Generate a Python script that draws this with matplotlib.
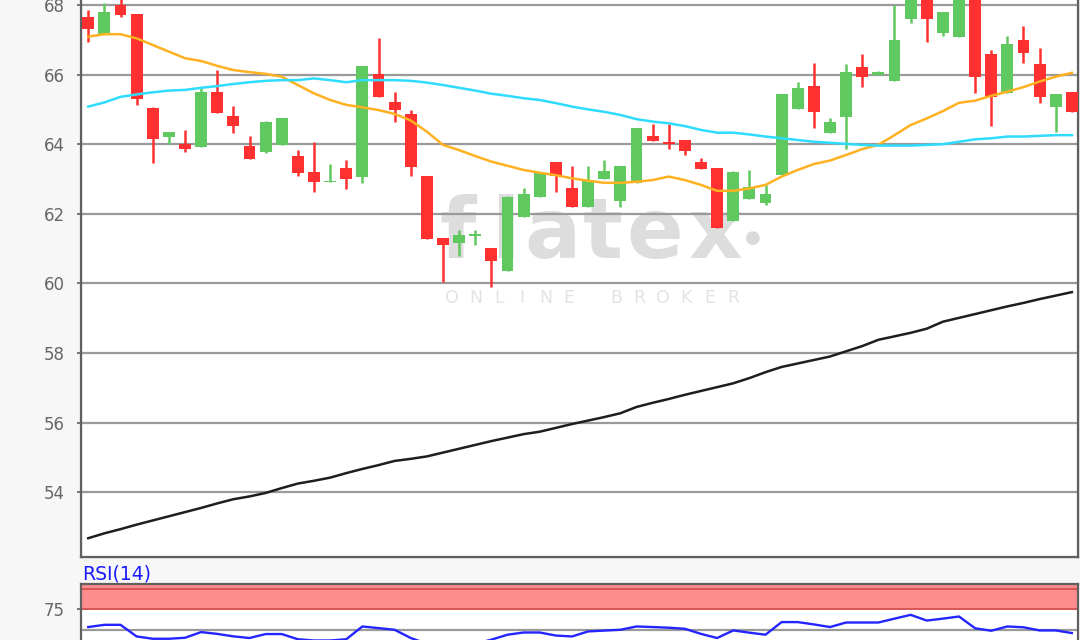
"""
Candlestick chart with moving averages and RSI(14) panel
"""

import matplotlib
matplotlib.use("Agg")
import matplotlib.pyplot as plt
import numpy as np

# ── data ──────────────────────────────────────────
OPEN = [67.66, 67.17, 68.00, 67.74, 65.05, 64.20, 64.00, 63.91, 65.49, 64.81,
        63.96, 63.78, 63.98, 63.67, 63.19, 62.90, 63.31, 63.05, 66.02, 65.22,
        64.87, 63.09, 61.30, 61.15, 61.37, 61.01, 60.36, 61.92, 62.49, 63.48,
        62.73, 62.19, 63.00, 62.37, 62.88, 64.24, 64.05, 64.12, 63.48, 63.31,
        61.79, 62.43, 62.30, 63.11, 65.00, 65.67, 64.31, 64.77, 66.23, 66.00,
        65.82, 67.60, 68.40, 67.19, 67.07, 68.50, 66.59, 65.46, 66.99, 66.30,
        65.06, 65.49]
HIGH = [67.86, 68.05, 68.30, 67.74, 65.08, 64.34, 64.41, 65.65, 66.13, 65.10,
        64.24, 64.68, 64.74, 63.83, 64.05, 63.43, 63.55, 66.25, 67.04, 65.49,
        64.98, 63.09, 61.30, 61.53, 61.53, 61.01, 62.51, 62.73, 63.16, 63.48,
        63.37, 63.37, 63.55, 63.37, 64.46, 64.58, 64.58, 64.12, 63.59, 63.31,
        63.24, 63.26, 62.83, 65.43, 65.80, 66.32, 64.74, 66.30, 66.59, 66.10,
        68.00, 68.60, 68.60, 67.79, 68.60, 68.60, 66.71, 67.11, 67.40, 66.76,
        65.43, 65.49]
LOW = [66.95, 67.17, 67.65, 65.13, 63.45, 64.00, 63.78, 63.91, 64.89, 64.31,
       63.57, 63.74, 63.98, 63.09, 62.64, 62.90, 62.70, 62.88, 65.35, 64.65,
       63.09, 61.27, 60.05, 60.80, 61.10, 59.91, 60.36, 61.92, 62.49, 62.64,
       62.19, 62.19, 63.00, 62.19, 62.88, 64.10, 63.85, 63.69, 63.29, 61.60,
       61.79, 62.43, 62.25, 63.11, 65.00, 64.47, 64.31, 63.85, 65.63, 65.98,
       65.82, 67.47, 66.95, 67.12, 67.07, 65.46, 64.53, 65.46, 66.32, 65.18,
       64.36, 64.93]
CLOSE = [67.30, 67.79, 67.71, 65.30, 64.14, 64.34, 63.85, 65.51, 64.89, 64.53,
         63.57, 64.63, 64.74, 63.16, 62.92, 62.93, 62.99, 66.25, 65.35, 64.98,
         63.34, 61.27, 61.10, 61.39, 61.41, 60.64, 62.49, 62.56, 63.16, 63.09,
         62.19, 62.97, 63.24, 63.37, 64.46, 64.10, 64.00, 63.81, 63.29, 61.60,
         63.19, 62.76, 62.56, 65.43, 65.61, 64.93, 64.63, 66.07, 65.92, 66.07,
         66.99, 68.40, 67.60, 67.79, 68.40, 65.92, 65.35, 66.87, 66.61, 65.35,
         65.43, 64.93]

SMA_SHORT = [67.09, 67.16, 67.16, 67.04, 66.85, 66.66, 66.47, 66.39, 66.25, 66.13,
             66.07, 66.02, 65.94, 65.70, 65.46, 65.27, 65.13, 65.06, 64.98, 64.87,
             64.68, 64.36, 63.98, 63.83, 63.66, 63.50, 63.38, 63.26, 63.18, 63.11,
             63.02, 62.95, 62.89, 62.89, 62.92, 62.97, 63.07, 62.97, 62.83, 62.66,
             62.66, 62.73, 62.83, 63.07, 63.26, 63.43, 63.53, 63.69, 63.86, 63.98,
             64.26, 64.55, 64.74, 64.95, 65.19, 65.25, 65.39, 65.51, 65.64, 65.80,
             65.94, 66.05]
SMA_MID = [65.08, 65.20, 65.36, 65.43, 65.49, 65.54, 65.56, 65.62, 65.67, 65.73,
           65.78, 65.82, 65.84, 65.84, 65.89, 65.84, 65.78, 65.84, 65.84, 65.84,
           65.82, 65.77, 65.70, 65.62, 65.54, 65.45, 65.39, 65.32, 65.27, 65.18,
           65.08, 65.00, 64.93, 64.84, 64.72, 64.65, 64.60, 64.52, 64.41, 64.33,
           64.33, 64.28, 64.22, 64.17, 64.12, 64.07, 64.04, 64.01, 63.98, 63.96,
           63.96, 63.96, 63.98, 64.00, 64.07, 64.14, 64.17, 64.22, 64.22, 64.24,
           64.26, 64.26]
SMA_LONG = [52.68, 52.82, 52.94, 53.07, 53.19, 53.31, 53.43, 53.55, 53.68, 53.80,
            53.88, 53.98, 54.12, 54.25, 54.33, 54.42, 54.55, 54.67, 54.78, 54.90,
            54.96, 55.03, 55.14, 55.25, 55.36, 55.47, 55.57, 55.67, 55.74, 55.85,
            55.96, 56.06, 56.16, 56.27, 56.45, 56.57, 56.68, 56.80, 56.91, 57.02,
            57.13, 57.28, 57.45, 57.60, 57.70, 57.80, 57.90, 58.05, 58.20, 58.38,
            58.48, 58.58, 58.70, 58.90, 59.01, 59.12, 59.23, 59.34, 59.44, 59.55,
            59.65, 59.75]
RSI = [53.3, 56.0, 56.0, 41.9, 39.1, 39.1, 40.3, 47.2, 45.0, 42.0,
       40.0, 44.8, 44.8, 38.5, 37.0, 37.0, 38.5, 54.0, 52.0, 50.0,
       40.0, 33.0, 29.0, 31.0, 33.0, 38.0, 44.0, 46.7, 46.7, 43.0,
       41.9, 48.0, 49.0, 50.0, 54.0, 53.3, 52.5, 51.2, 45.0, 40.0,
       49.2, 46.5, 44.0, 59.3, 59.3, 56.5, 53.3, 58.8, 58.8, 58.8,
       63.5, 68.1, 61.2, 63.5, 66.1, 51.8, 48.8, 54.0, 53.0, 49.2,
       49.2, 46.0]

PRICE_TICKS = [54, 56, 58, 60, 62, 64, 66, 68]

# ── style ─────────────────────────────────────────
BG = "#f7f7f7"
UP = "#5fc95f"
DOWN = "#ff3030"
GRID = "#9a9a9a"
SPINE = "#606060"
LABEL = "#666666"
W, H = 1080, 640

plt.rcParams["font.family"] = ["DejaVu Sans"]


def px(x0, y0, x1, y1):
    """pixel box (top-left origin) -> figure fraction rect"""
    return [x0 / W, 1 - y1 / H, (x1 - x0) / W, (y1 - y0) / H]


def style_axis(a):
    a.tick_params(axis="y", length=3, width=1.2, color=SPINE, pad=8.5,
                  labelsize=12, labelcolor=LABEL)
    for spine in a.spines.values():
        spine.set_edgecolor(SPINE)
        spine.set_linewidth(1.6)


def watermark(fig):
    # big "flatex" letters, spaced like the logo
    for ch, xc in zip("flatex", [458, 506, 552, 603, 655, 716]):
        fig.text(xc / W, 1 - 258 / H, ch, fontsize=60, fontweight="bold",
                 color="#dddddd", ha="center", va="baseline", zorder=-0.5)
    fig.text(753 / W, 1 - 238 / H, "●", fontsize=13, color="#dadada",
             ha="center", va="center", zorder=-0.5)
    # spaced "ONLINE BROKER"
    word = "ONLINE BROKER"
    xs = np.linspace(452, 733, len(word))
    for ch, xc in zip(word, xs):
        if ch != " ":
            fig.text(xc / W, 1 - 298 / H, ch, fontsize=12.5,
                     color="#e3e3e3", ha="center", va="center", zorder=-0.5)


def draw():
    fig = plt.figure(figsize=(W / 100, H / 100), dpi=100)
    fig.patch.set_facecolor(BG)

    # white plot background behind the watermark
    bg = fig.add_axes(px(81, -10, 1078, 557), zorder=-1)
    bg.set_facecolor("white")
    bg.set_xticks([])
    bg.set_yticks([])

    # ── main price panel ──
    ax = fig.add_axes(px(81, -10, 1078, 557))
    ax.patch.set_alpha(0)
    n = len(OPEN)
    x = np.arange(n)
    o, h, l, c = map(np.array, (OPEN, HIGH, LOW, CLOSE))
    colors = [UP if cc >= oo else DOWN for oo, cc in zip(o, c)]

    ax.grid(axis="y", color=GRID, linewidth=1.6, zorder=0)
    ax.set_axisbelow(True)

    ax.vlines(x, l, h, colors=colors, linewidth=1.8, zorder=3)
    bottoms = np.minimum(o, c)
    heights = np.maximum(np.abs(c - o), 0.05)
    ax.bar(x, heights, bottom=bottoms, width=0.74, color=colors,
           linewidth=0, zorder=4)

    ax.plot(x, SMA_SHORT, color="#ffb121", linewidth=1.8, zorder=5)
    ax.plot(x, SMA_MID, color="#2fdcff", linewidth=1.8, zorder=5)
    ax.plot(x, SMA_LONG, color="#1e1e1e", linewidth=1.8, zorder=5)

    ax.set_xlim(-0.45, 61.38)
    ax.set_ylim(52.14, 68.43)
    ax.set_yticks(PRICE_TICKS)
    ax.set_xticks([])
    style_axis(ax)

    # ── RSI panel ──
    rx = fig.add_axes(px(81, 584, 1078, 671))
    rx.set_facecolor("white")
    rx.axhspan(75, 106, color="#ff8c8c", zorder=1, linewidth=0)
    rx.axhline(75, color="#d45555", linewidth=1.4, zorder=2)
    rx.axhline(100, color="#d45555", linewidth=1.4, zorder=2)
    rx.axhline(50, color=GRID, linewidth=1.6, zorder=1)
    rx.plot(x, RSI, color="#2424ff", linewidth=1.7, zorder=3)
    rx.set_xlim(-0.45, 61.38)
    rx.set_ylim(0, 105.5)
    rx.set_yticks([75])
    rx.set_xticks([])
    style_axis(rx)
    fig.text(82 / W, 1 - 574 / H, "RSI(14)", color="#1a1aff", fontsize=13.5,
             ha="left", va="center")

    watermark(fig)

    fig.savefig("out.png", dpi=100, facecolor=BG)
    plt.close(fig)


if __name__ == "__main__":
    draw()
